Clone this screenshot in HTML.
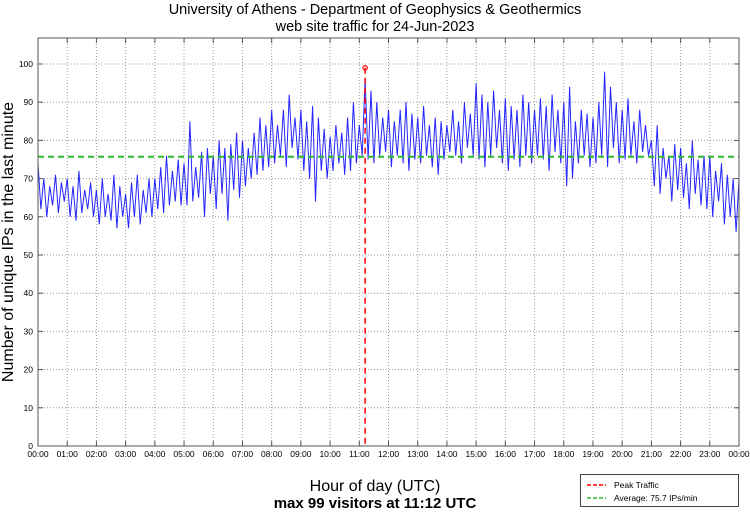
<!DOCTYPE html>
<html><head><meta charset="utf-8"><style>
body{margin:0;background:#fff;font-family:"Liberation Sans",sans-serif}
svg text{font-family:"Liberation Sans",sans-serif}
</style></head><body>
<svg id="chart" width="750" height="511" viewBox="0 0 750 511">
<text x="375" y="14" text-anchor="middle" font-size="14.5">University of Athens - Department of Geophysics &amp; Geothermics</text>
<text x="375" y="31" text-anchor="middle" font-size="14.5">web site traffic for 24-Jun-2023</text>
<g id="grid"></g>
<g id="ticks"></g>
<g id="series"></g>
<rect x="38" y="38" width="701" height="408" fill="none" stroke="#555" stroke-width="1"/>
<text transform="translate(13,242) rotate(-90)" text-anchor="middle" font-size="16">Number of unique IPs in the last minute</text>
<text x="375" y="491" text-anchor="middle" font-size="16">Hour of day (UTC)</text>
<text x="375" y="508" text-anchor="middle" font-size="15" font-weight="bold">max 99 visitors at 11:12 UTC</text>
<g>
<rect x="580.5" y="474.5" width="158" height="32" fill="#fff" stroke="#444"/>
<line x1="587" y1="485" x2="606" y2="485" stroke="red" stroke-width="1.5" stroke-dasharray="4,2"/>
<text x="614" y="488" font-size="8.5">Peak Traffic</text>
<line x1="587" y1="498" x2="606" y2="498" stroke="#2db82d" stroke-width="1.5" stroke-dasharray="4,2"/>
<text x="614" y="501" font-size="8.5">Average: 75.7 IPs/min</text>
</g>
</svg>
<script>
const yTicks=[0,10,20,30,40,50,60,70,80,90,100];
const xTickLabels=["00:00","01:00","02:00","03:00","04:00","05:00","06:00","07:00","08:00","09:00","10:00","11:00","12:00","13:00","14:00","15:00","16:00","17:00","18:00","19:00","20:00","21:00","22:00","23:00","00:00"];
const averageValue=75.7;
const peakMinute=672;
const peakValue=99;
const sampleStepMinutes=6;
const visitors=[
74,62,70,60,68,63,71,61,69,64,
70,60,68,59,72,61,67,62,69,60,
67,58,70,60,66,59,71,57,68,60,
66,57,69,60,71,58,67,61,70,60,
70,62,73,61,76,63,72,64,75,63,
74,63,85,64,73,65,77,60,78,66,
76,62,80,66,78,59,79,67,82,65,
80,68,78,70,82,71,86,72,84,73,
88,74,84,76,88,73,92,78,86,75,
88,72,85,70,89,64,86,72,83,70,
81,72,84,74,82,71,86,72,90,74,
84,76,96,75,93,74,90,76,86,77,
88,73,85,76,88,74,90,72,87,75,
86,74,89,76,84,73,86,71,85,75,
84,77,88,76,85,74,90,78,87,76,
95,75,92,73,90,76,93,78,88,74,
91,72,89,75,88,73,92,76,90,74,
88,76,91,75,89,72,92,77,88,74,
90,68,94,70,85,74,88,76,87,73,
86,74,90,76,98,73,94,78,90,74,
88,75,91,76,85,74,88,77,84,76,
80,68,84,66,78,70,76,64,79,67,
78,65,74,62,80,66,75,63,76,62,
76,60,72,64,74,58,71,60,70,56,70];
const NS="http://www.w3.org/2000/svg";
const L=38,R=739,T=38,B=446,YMAX=106.8;
const x=m=>L+(R-L)*m/1440;
const y=v=>B-(B-T)*v/YMAX;
function mk(tag,attrs,parent){const e=document.createElementNS(NS,tag);for(const k in attrs)e.setAttribute(k,attrs[k]);parent.appendChild(e);return e;}
const grid=document.getElementById('grid'),ticks=document.getElementById('ticks'),series=document.getElementById('series');
yTicks.forEach(v=>{
 const g=mk('line',{x1:L,x2:R,y1:y(v),y2:y(v),stroke:'#999','stroke-dasharray':'1,2'},grid);
 
 
 mk('line',{x1:L,x2:L+5,y1:y(v),y2:y(v),stroke:'#555'},ticks);
 mk('line',{x1:R-5,x2:R,y1:y(v),y2:y(v),stroke:'#555'},ticks);
 const t=mk('text',{x:L-5,y:y(v)+3,'text-anchor':'end','font-size':'8.5'},ticks);
 t.textContent=v;
 
 
});
xTickLabels.forEach((lab,i)=>{
 const xx=x(i*60);
 const g=mk('line',{x1:xx,x2:xx,y1:T,y2:B,stroke:'#999','stroke-dasharray':'1,2'},grid);
 
 
 mk('line',{x1:xx,x2:xx,y1:B-5,y2:B,stroke:'#555'},ticks);
 mk('line',{x1:xx,x2:xx,y1:T,y2:T+5,stroke:'#555'},ticks);
 const t=mk('text',{x:xx,y:B+11,'text-anchor':'middle','font-size':'8.5'},ticks);
 t.textContent=lab;
 
 
});
const pts=visitors.map((v,i)=>x(Math.min(1440,i*sampleStepMinutes)).toFixed(1)+','+y(v).toFixed(1)).join(' ');
const pl=mk('polyline',{points:pts,fill:'none',stroke:'#0000ff','stroke-width':'1','stroke-opacity':'0.85'},series);


const av=mk('line',{x1:L,x2:R,y1:y(averageValue),y2:y(averageValue),stroke:'#2db82d','stroke-width':'2','stroke-dasharray':'6,4'},series);


const pk=mk('line',{x1:x(peakMinute),x2:x(peakMinute),y1:y(peakValue),y2:B,stroke:'red','stroke-width':'1.5','stroke-dasharray':'6,4'},series);


const pm=mk('circle',{cx:x(peakMinute),cy:y(peakValue),r:2.2,fill:'none',stroke:'red','stroke-width':'1.2'},series);


</script>
</body></html>
